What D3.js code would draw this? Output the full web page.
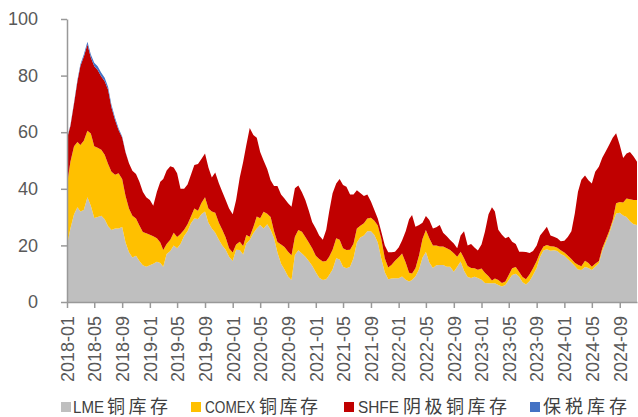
<!DOCTYPE html>
<html>
<head>
<meta charset="utf-8"/>
<script src="https://cdn.jsdelivr.net/npm/d3@7"></script>
<style>
body{margin:0;background:#fff;}
</style>
</head>
<body>
<script>
// half-month readings, 2018-01 .. 2024-11 (万吨)
var lme=[20,26,31,33.5,32,32.5,37,34,29.7,30,30.5,29.2,26.8,25.4,26,26,26.5,21,
17.6,15.7,16.3,14.5,13,12.5,13,13.5,14.2,13.8,12.5,17,18,20,19,20.5,23.3,25,
27.8,29.5,29.3,31,32,28,26,24.5,22,20,18.5,16,14.5,18.5,18.4,16.8,20.7,21.9,
24.3,26,27.2,26,27.5,25.5,22.5,17.5,13.5,11.5,9,7.8,16.6,18.3,17.1,16,14.5,12.8,
10.5,8.6,7.8,8,9.5,11.5,15.5,15,12.5,11.9,12.5,15.5,21,22.8,23.5,25,25,23.7,
21,15.5,10.5,8,8.3,8.4,8.4,9,7.9,7.2,7.8,9,11.6,15.6,17.7,14,12,13,
13.1,13.1,12.5,12.5,10.7,12.5,14.3,11,8.8,8.5,8.9,8.5,7.9,6.7,6.6,6.6,6.6,6,
5.5,6,7.8,9.5,10,8.9,7,6.2,7.4,9.5,12,15.9,18.2,18.6,18.1,18.3,18,17,
16.3,15.2,14,12.7,11.5,11.3,12.4,12,11.3,12.5,13.7,18,21,24,28,31.3,31.5,30.6,
30,28.5,27.5,27.2];
var comex=[21.5,23.6,24,23,23.5,24.5,23.5,25.5,25.3,24.5,23.3,22.8,22,20.6,19,19.5,17,16.5,
15.4,14.8,13.2,12.5,11.7,11.8,10.8,9.7,8.3,7.2,5.9,3.5,4,4.5,4,3.5,2.2,2.5,
2.4,3.5,2.9,4,5,5,6,7,6,5.5,4.3,3,3,1.8,2.9,3,3,1.2,
2.2,4.2,2.4,5.9,3.7,4.5,2.5,3.7,6.8,7.9,8.8,8.7,6.5,7.1,7.7,7,6.5,6.2,
5.8,6.6,6.5,6.5,6.5,7,7,7,6.5,6.5,6,5.1,5,4.1,4.3,4.5,4.8,5,
6,7,5,4.2,4.9,6.2,7.4,8.1,6.1,3.1,2.3,2.9,4.9,6.7,7.7,8.5,8,7,
6.5,6.5,6.5,5.9,6.5,3.5,3.5,4.5,3.9,3.5,3,2.9,3.9,3.6,2.5,1,1.7,1.8,
1.2,1.2,1.7,2.4,2.4,1.7,1.8,1.8,2.4,2.4,2.5,1.6,1.4,1.5,1.6,1.3,1.2,1.3,
1.2,1.2,1.2,1.2,1.7,1.3,2.2,1.8,1.2,1,0.8,1,1,1,1,3.6,3.8,4.6,
6.6,7.8,8.5,8.8];
var shfe=[16.3,12.6,15.1,21.5,27.9,29.7,30.5,26.9,28.3,27.5,25.9,26,26.2,22.7,19.2,15.3,14.6,15.3,
16,15.9,15.7,15.5,14.3,12.7,12.2,10.8,16.5,21.5,25.1,26,26,23,22.5,16,14.5,14,
14.8,15.4,16.6,15.5,15.5,14.5,12,14.3,14,13.5,13.2,14,13.5,15.7,22.7,29.7,31.8,38.4,
32.5,27.8,23.4,18.1,15.8,13,16,19.8,17.7,17.2,17.1,17.2,17.1,15.8,14,13,11.3,9.3,
9.7,8.3,7.7,11,16,19.9,19.4,21.5,22.3,22.3,19.5,17.4,13.5,11.6,9.7,8.5,5.7,3.8,
2.5,2.5,4.5,5.4,4.4,3.2,3.5,4.6,11,18.9,20.6,14.7,10.7,5.7,5,6.5,6,6.4,
7.6,4.9,4.2,3.5,3.5,3,5.7,9.5,7.3,8.5,7.4,6.8,8.5,14.5,21.9,25.9,23.7,17.7,
17.1,15.3,13.6,9.4,8.1,7.2,9,9.7,7.5,6.1,5.5,6,5.4,6.5,3.8,3.5,3.3,3.2,
4.1,6.6,9.8,17.4,25.8,30.6,30.1,29.2,29.4,32.5,33.3,32,31.2,30.5,29,24.7,20.2,15.7,
15.9,16.7,15.4,13.6];
// bonded stock only reported for 2018
var bonded=[0.2,0.3,0.4,0.5,0.6,0.8,1,1.1,1.2,1.3,1.3,1.2,1,0.9,0.8,0.6,0.4,0.2];

var seriesNames=["LME铜库存","COMEX铜库存","SHFE阴极铜库存","保税库存"];
var colors=["#BFBFBF","#FFC000","#C00000","#4472C4"];
var yTicks=[0,20,40,60,80,100];

var width=638, height=417;
var plotLeft=67, plotRight=637, plotTop=19, plotBottom=302;

var dates=lme.map(function(d,i){return new Date(2018,Math.floor(i/2),i%2?16:1);});
var rows=dates.map(function(d,i){
  return {date:d,lme:lme[i],comex:comex[i],shfe:shfe[i],bonded:i<bonded.length?bonded[i]:0};
});

var svg=d3.select("body").append("svg").attr("width",width).attr("height",height);

var x=d3.scaleTime().domain([dates[0],dates[dates.length-1]]).range([plotLeft,plotRight]);
var y=d3.scaleLinear().domain([0,100]).range([plotBottom,plotTop]);

var stack=d3.stack().keys(["lme","comex","shfe","bonded"]);
var layers=stack(rows);
var area=d3.area()
  .x(function(d){return x(d.data.date);})
  .y0(function(d){return y(d[0]);})
  .y1(function(d){return y(d[1]);});

svg.append("g").selectAll("path")
  .data(layers)
  .enter()
  .append("path")
  .attr("d",area)
  .attr("fill",function(d,i){return colors[i];});

// y axis
var yAxis=svg.append("g")
  .attr("transform","translate("+plotLeft+",0)")
  .call(d3.axisLeft(y).tickValues(yTicks).tickSize(6).tickSizeOuter(0).tickPadding(23));
yAxis.selectAll("text")
  .style("font-family","'Liberation Sans', Arial, sans-serif")
  .style("font-size","18px")
  .attr("fill","#595959");

// x axis
var xTicks=d3.timeMonth.every(4).range(new Date(2018,0,1),new Date(2024,9,1));
var xAxis=svg.append("g")
  .attr("transform","translate(0,"+plotBottom+")")
  .call(d3.axisBottom(x).tickValues(xTicks).tickSize(6).tickSizeOuter(0).tickFormat(d3.timeFormat("%Y-%m")));
xAxis.selectAll("text")
  .attr("transform","rotate(-90)")
  .attr("text-anchor","end")
  .attr("x",-14)
  .attr("y",0)
  .attr("dy","0.35em")
  .style("font-family","'Liberation Sans', Arial, sans-serif")
  .style("font-size","18px")
  .attr("fill","#595959");

svg.selectAll(".domain").attr("stroke","#999").attr("stroke-width",1.5);
svg.selectAll(".tick line").attr("stroke","#999").attr("stroke-width",1.5);

// legend
var legendPos=[
  {sx:61, lx:73, lw:31, cx:107, cw:61},
  {sx:191, lx:205, lw:50, cx:259, cw:59},
  {sx:344, lx:358, lw:41, cx:403, cw:104},
  {sx:530, lx:543, lw:0, cx:543, cw:84}
];
var ly=407;
var legend=svg.append("g");
seriesNames.forEach(function(name,i){
  var p=legendPos[i];
  var latin=(name.match(/^[A-Za-z]+/)||[""])[0];
  var cjk=name.slice(latin.length);
  legend.append("rect").attr("x",p.sx).attr("y",ly-5).attr("width",10).attr("height",10).attr("fill",colors[i]);
  if(latin){
    legend.append("text").attr("x",p.lx).attr("y",ly).attr("dy","0.36em")
      .attr("textLength",p.lw).attr("lengthAdjust","spacingAndGlyphs")
      .style("font-family","'Liberation Sans', Arial, sans-serif").style("font-size","17px")
      .attr("fill","#404040").text(latin);
  }
  legend.append("text").attr("x",p.cx).attr("y",ly).attr("dy","0.36em")
    .attr("textLength",p.cw).attr("lengthAdjust","spacing")
    .style("font-family","'Noto Sans CJK SC', sans-serif").style("font-size","18px")
    .attr("fill","#404040").text(cjk);
});
</script>
</body>
</html>
